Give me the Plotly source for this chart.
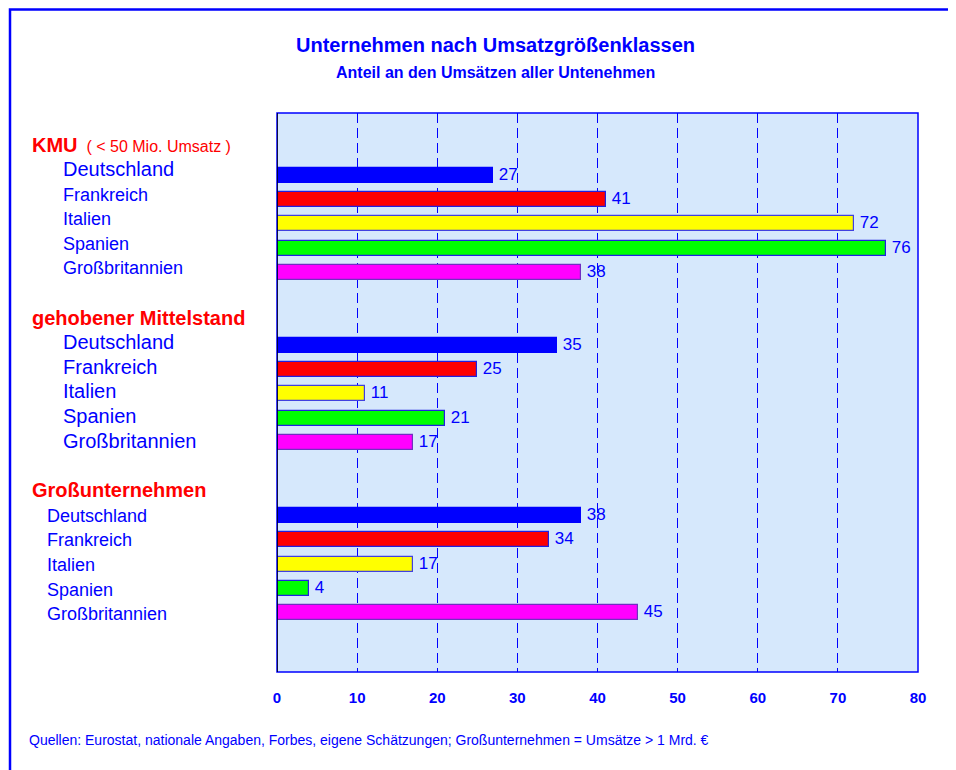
"""
Unternehmen nach Umsatzgrößenklassen - horizontal bar chart
"""
import plotly.graph_objects as go

# ---------------------------------------------------------------------
# DATA
# ---------------------------------------------------------------------
groups = ['KMU', 'gehobener Mittelstand', 'Großunternehmen']
countries = ['Deutschland', 'Frankreich', 'Italien', 'Spanien', 'Großbritannien']
kmu = [27, 41, 72, 76, 38]
mittelstand = [35, 25, 11, 21, 17]
gross = [38, 34, 17, 4, 45]
values = [kmu, mittelstand, gross]
x_ticks = [0, 10, 20, 30, 40, 50, 60, 70, 80]

bar_colors = ['#0000FF', '#FF0000', '#FFFF00', '#00FF00', '#FF00FF']
bar_lines = ['#0000FF', '#2020E0', '#4040E0', '#2020E0', '#7030C0']

BLUE = '#0000FF'
RED = '#FF0000'
FONT = 'Arial, Liberation Sans, sans-serif'

# page geometry (pixels, as seen in the browser window)
OFF = 8                      # body margin of the html page
W, H = 956, 770
L, R, T, B = 277, 38, 113, 98
PW, PH = W - L - R, H - T - B


def px_x(px):
    return (px - L) / PW


def px_y(py):
    return (H - B - py) / PH


fig = go.Figure()

# one slot per row: header row + 5 countries + empty row, 7 rows per group
for g, vals in enumerate(values):
    pos = [g * 7 + 2 + i for i in range(len(countries))]
    fig.add_trace(go.Bar(
        x=vals,
        y=pos,
        orientation='h',
        width=0.62,
        marker=dict(color=bar_colors, line=dict(color=bar_lines, width=1.2)),
        text=['\u2009' + str(v) for v in vals],
        textposition='outside',
        constraintext='none',
        textfont=dict(color=BLUE, size=17, family=FONT),
        cliponaxis=False,
        showlegend=False,
        hoverinfo='skip',
    ))

# ---------------------------------------------------------------------
# LEFT LABELS
# ---------------------------------------------------------------------
header_y = [145, 318, 490]
label_x = [61, 61, 45]
label_sizes = [[20, 18, 18, 18, 18], [20, 20, 20, 20, 20], [18, 18, 18, 18, 18]]
label_y = [[169, 195, 219, 244, 268], [342, 367, 391, 416, 441], [516, 540, 565, 590, 614]]

header_text = [
    '<b>KMU</b><span style="font-size:16px">  ( &lt; 50 Mio. Umsatz )</span>',
    '<b>gehobener Mittelstand</b>',
    '<b>Großunternehmen</b>',
]
for g in range(len(groups)):
    fig.add_annotation(
        x=px_x(30), y=px_y(header_y[g]), xref='paper', yref='paper',
        text=header_text[g], showarrow=False, xanchor='left', yanchor='middle',
        font=dict(color=RED, size=20, family=FONT),
    )
    for i, c in enumerate(countries):
        fig.add_annotation(
            x=px_x(label_x[g]), y=px_y(label_y[g][i]), xref='paper', yref='paper',
            text=c, showarrow=False, xanchor='left', yanchor='middle',
            font=dict(color=BLUE, size=label_sizes[g][i], family=FONT),
        )

# titles
fig.add_annotation(
    x=px_x(495), y=px_y(45), xref='paper', yref='paper',
    text='<b>Unternehmen nach Umsatzgrößenklassen</b>', showarrow=False,
    xanchor='center', yanchor='middle', font=dict(color=BLUE, size=20, family=FONT),
)
fig.add_annotation(
    x=px_x(495), y=px_y(72), xref='paper', yref='paper',
    text='<b>Anteil an den Umsätzen aller Untenehmen</b>', showarrow=False,
    xanchor='center', yanchor='middle', font=dict(color=BLUE, size=16, family=FONT),
)
# footnote
fig.add_annotation(
    x=px_x(27), y=px_y(740), xref='paper', yref='paper',
    text='Quellen: Eurostat, nationale Angaben, Forbes, eigene Schätzungen; '
         'Großunternehmen = Umsätze &gt; 1 Mrd. €',
    showarrow=False, xanchor='left', yanchor='middle',
    font=dict(color=BLUE, size=14, family=FONT),
)

# outer frame (runs off the right and bottom edge)
fig.add_shape(
    type='rect', xref='paper', yref='paper',
    x0=px_x(10), x1=px_x(W + 10), y0=px_y(H + 10), y1=px_y(OFF + 1.5),
    line=dict(color=BLUE, width=2.5), fillcolor='rgba(0,0,0,0)', layer='above',
)
# plot border
fig.add_shape(
    type='rect', xref='paper', yref='paper', x0=0, x1=1, y0=0, y1=1,
    line=dict(color=BLUE, width=1.5), fillcolor='rgba(0,0,0,0)', layer='above',
)

# ---------------------------------------------------------------------
# LAYOUT
# ---------------------------------------------------------------------
fig.update_layout(
    width=W - OFF, height=H - OFF,
    margin=dict(l=L - OFF, r=R, t=T - OFF, b=B, autoexpand=False),
    paper_bgcolor='white',
    plot_bgcolor='#d6e8fc',
    font=dict(family=FONT, color=BLUE),
    bargap=0,
)
fig.update_xaxes(
    range=[0, 80],
    tickvals=x_ticks,
    ticktext=[f'<b>{t}</b>' for t in x_ticks],
    tickfont=dict(color=BLUE, size=15, family=FONT),
    ticklabelstandoff=15,
    showgrid=True, gridcolor=BLUE, griddash='10px,5px', gridwidth=1,
    zeroline=False, showline=False, ticks='',
)
fig.update_yaxes(
    range=[22.44, -0.56],
    showticklabels=False, showgrid=False, zeroline=False, ticks='',
    showline=False,
)
# black left axis line at x = 0
fig.add_vline(x=0, line=dict(color='black', width=1.5), layer='above')

fig.write_html('out.html')
